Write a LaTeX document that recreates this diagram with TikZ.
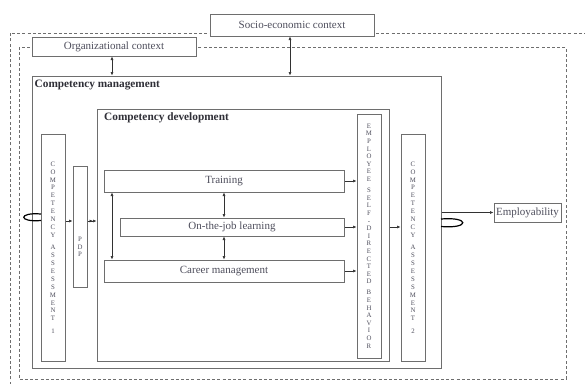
\documentclass[tikz,border=0pt]{standalone}
\usepackage{fontspec}
\setmainfont{Liberation Serif}
\usetikzlibrary{arrows.meta,calc}
\definecolor{txtc}{RGB}{78,78,92}
\definecolor{linec}{RGB}{110,110,110}
\definecolor{arrc}{RGB}{50,50,50}
\tikzset{
  box/.style={draw=linec, line width=1pt, fill=white, inner sep=0pt, text=txtc,
    font=\fontsize{11}{13}\selectfont},
  vbox/.style={draw=linec, line width=1pt, fill=white, inner sep=0pt, text=txtc,
    align=center, font=\fontsize{6.8}{7.9}\selectfont},
  title/.style={anchor=north west, inner sep=0pt, text=txtc!60!black,
    font=\fontsize{11.3}{13}\selectfont\bfseries},
  dashline/.style={draw=linec, line width=0.9pt, dash pattern=on 3pt off 2.2pt},
  arr/.style={draw=arrc, line width=0.6pt, -{Latex[length=3.5pt,width=3pt]}},
  darr/.style={draw=arrc, line width=0.6pt, {Latex[length=3.5pt,width=3pt]}-{Latex[length=3.5pt,width=3pt]}},
  ddarr/.style={draw=arrc, line width=0.6pt, -{Latex[length=3.5pt,width=3pt]Latex[length=3.5pt,width=3pt]}},
  loopc/.style={draw=black, line width=1.2pt}
}
\begin{document}
\begin{tikzpicture}[x=1pt,y=-1pt]
\useasboundingbox (0,0) rectangle (585,383);
\clip (0,0) rectangle (585,383);
% dashed context frames
\draw[dashline] (10,395) -- (10,33) -- (595,33);
\draw[dashline] (19,47) rectangle (566,379);
% boxes
\node[box, minimum width=164, minimum height=22] (socio) at (292,25) {Socio-economic context};
\node[box, minimum width=164, minimum height=19] (org) at (114,46.5) {Organizational context};
\node[box, minimum width=409, minimum height=292] (cm) at (236.5,222) {};
\node[title] (cmt) at (34.5,80) {Competency management};
\node[box, minimum width=292, minimum height=252] (cd) at (243,235) {};
\node[title] (cdt) at (104,112.5) {Competency development};
\node[vbox, minimum width=24, minimum height=227] (ca1) at (53,247.5)
  {C\\O\\M\\P\\E\\T\\E\\N\\C\\Y\\[4.5pt]A\\S\\S\\E\\S\\S\\M\\E\\N\\T\\[4.5pt]1};
\node[vbox, minimum width=14, minimum height=121] (pdp) at (80,226.5) {};
\node[text=txtc, align=center, inner sep=0pt, font=\fontsize{6.8}{7.5}\selectfont] (pdpt) at (80,247) {P\\D\\P};
\node[box, minimum width=240, minimum height=22] (train) at (224,181) {Training};
\node[box, minimum width=224, minimum height=18] (ojl) at (232,227) {On-the-job learning};
\node[box, minimum width=240, minimum height=22] (career) at (224,271) {Career management};
\node[vbox, minimum width=24, minimum height=244, font=\fontsize{6.8}{7.6}\selectfont] (esd) at (369,236)
  {E\\M\\P\\L\\O\\Y\\E\\E\\[3.5pt]S\\E\\L\\F\\-\\D\\I\\R\\E\\C\\T\\E\\D\\[3.5pt]B\\E\\H\\A\\V\\I\\O\\R};
\node[vbox, minimum width=24, minimum height=227] (ca2) at (413,247.5)
  {C\\O\\M\\P\\E\\T\\E\\N\\C\\Y\\[4.5pt]A\\S\\S\\E\\S\\S\\M\\E\\N\\T\\[4.5pt]2};
\node[box, minimum width=67, minimum height=19] (emp) at (527.5,212.5) {Employability};
% helper coordinates
\coordinate (ox) at (112,0);
\coordinate (sx) at (290,0);
\coordinate (mx) at (224,0);
\coordinate (ly) at (0,221);
\coordinate (ey) at (0,227);
% connectors
\draw[darr] (org.south -| ox) -- (cm.north -| ox);
\draw[darr] (socio.south -| sx) -- (cm.north -| sx);
\draw[darr] (train.south -| ox) -- (career.north -| ox);
\draw[darr] (train.south -| mx) -- (ojl.north -| mx);
\draw[darr] (ojl.south -| mx) -- (career.north -| mx);
\draw[arr] (train.east) -- (train.east -| esd.west);
\draw[arr] (ojl.east) -- (ojl.east -| esd.west);
\draw[arr] (career.east) -- (career.east -| esd.west);
\draw[arr] (cd.east |- ey) -- (ca2.west |- ey);
\draw[arr] (cm.east |- emp.west) -- (emp.west);
\draw[arr] (ca1.east |- ly) -- (pdp.west |- ly);
\draw[ddarr] (pdp.east |- ly) -- (cd.west |- ly);
% loops
\coordinate (la) at (41,214);
\coordinate (lb) at (41,220.5);
\draw[loopc] (la) .. controls (18,212) and (18,222.5) .. (lb);
\coordinate (ra) at (441,219);
\coordinate (rb) at (441,226.5);
\draw[loopc] (ra) .. controls (470,216.5) and (470,229) .. (rb);
\end{tikzpicture}
\end{document}
